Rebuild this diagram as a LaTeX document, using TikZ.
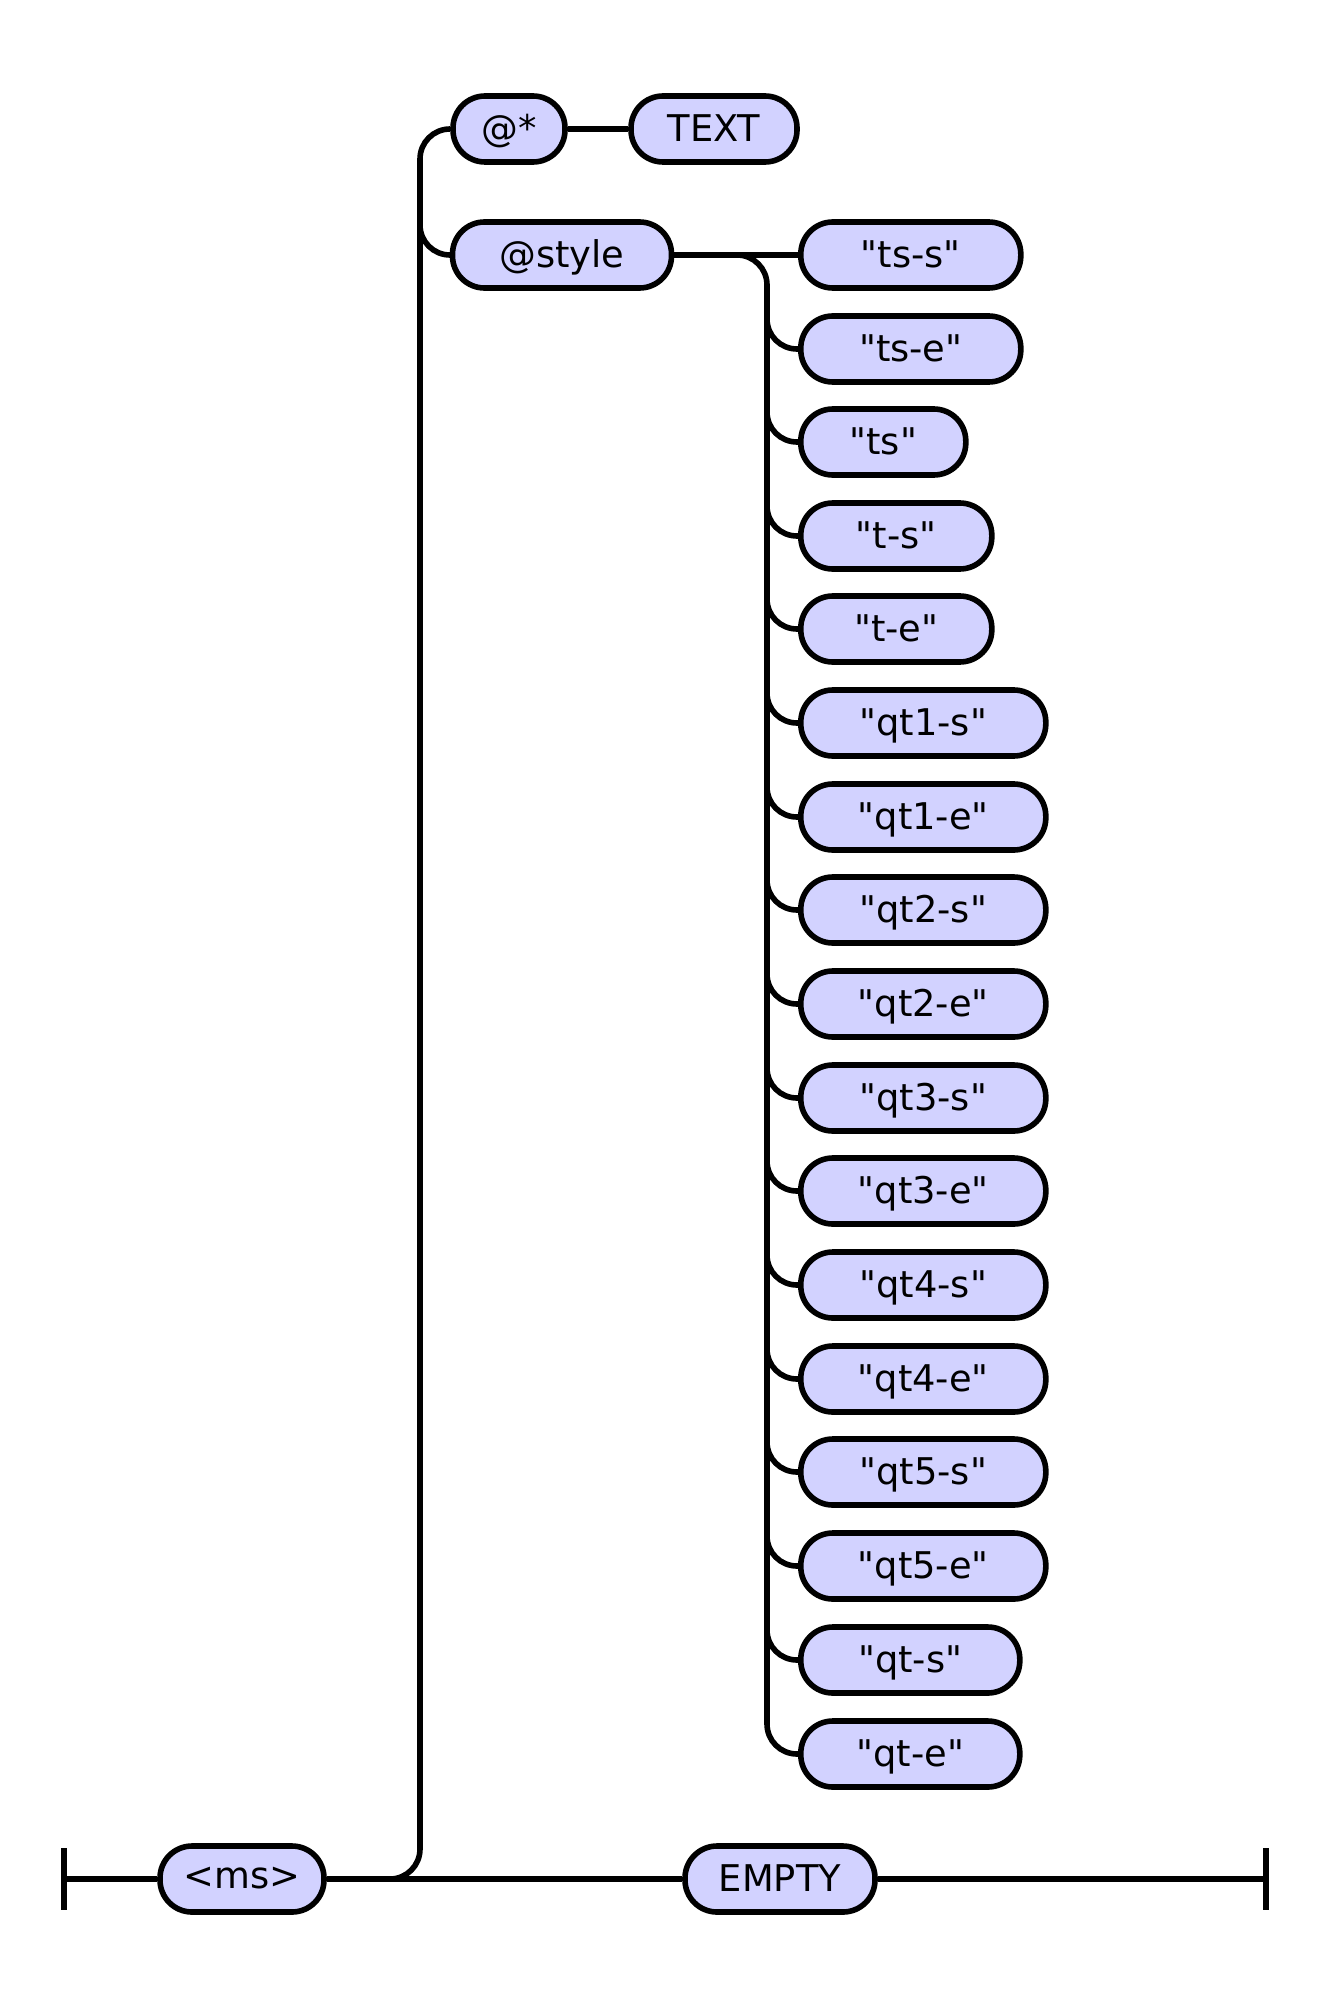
\documentclass[tikz,border=0pt]{standalone}
\usepackage{fontspec}
\setmainfont{DejaVu Sans}[Ligatures=TeXOff]
\definecolor{boxfill}{RGB}{210,210,255}
\begin{document}
\begin{tikzpicture}[x=0.5pt,y=-0.5pt,
  term/.style={draw=black, line width=2.8pt, fill=boxfill, rounded corners=16pt,
    minimum height=33pt, inner sep=0pt, font=\fontsize{18.4}{20}\selectfont,
    text depth=1pt, minimum width=#1*0.5pt},
  term/.default=120,
  wire/.style={line width=2.8pt, rounded corners=15pt},
  bar/.style={line width=2.8pt}]
\useasboundingbox (0,0) rectangle (1327,2006);
% main line
\node[term=164] (ms) at (242,1879) {<ms>};
\node[term=190] (empty) at (780,1879) {EMPTY};
\coordinate (L) at (64,1879);
\coordinate (R) at (1266,1879);
\draw[bar] (64,1848) -- (64,1910);
\draw[bar] (1266,1848) -- (1266,1910);
\draw[wire] (L) -- (ms.west);
\draw[wire] (ms.east) -- (empty.west);
\draw[wire] (empty.east) -- (R);
% upper branches
\node[term=112] (at) at (509,129) {@*};
\node[term=166] (text) at (714,129) {TEXT};
\node[term=219] (style) at (562,255) {@style};
\coordinate (J1) at (420,1879);
\coordinate (J2) at (420,129);
\draw[wire] (ms.east) -- (J1) -- (J2) -- (at.west);
\draw[wire] (420,200) -- (420,255) -- (style.west);
\draw[wire] (at.east) -- (text.west);
% right column
\foreach \n/\t/\w/\y in {
  tss/"ts-s"/220/255, tse/"ts-e"/220/349, ts/"ts"/165/442, tsd/"t-s"/191/536,
  te/"t-e"/191/629, qas/"qt1-s"/245/723, qae/"qt1-e"/245/817,
  qbs/"qt2-s"/245/910, qbe/"qt2-e"/245/1004, qcs/"qt3-s"/245/1098,
  qce/"qt3-e"/245/1191, qds/"qt4-s"/245/1285, qde/"qt4-e"/245/1379,
  qes/"qt5-s"/245/1472, qee/"qt5-e"/245/1566, qts/"qt-s"/219/1660,
  qte/"qt-e"/219/1754}{
  \node[term=\w, anchor=west] (\n) at (798,\y) {\t};
}
\draw[wire] (style.east) -- (tss.west);
\draw[wire] (style.east) -- (767,255) -- (767,1754) -- (qte.west);
\foreach \n/\y in {tse/349, ts/442, tsd/536, te/629, qas/723, qae/817,
  qbs/910, qbe/1004, qcs/1098, qce/1191, qds/1285, qde/1379, qes/1472,
  qee/1566, qts/1660}{
  \draw[wire] (767,\y-60) -- (767,\y) -- (\n.west);
}
\end{tikzpicture}
\end{document}
